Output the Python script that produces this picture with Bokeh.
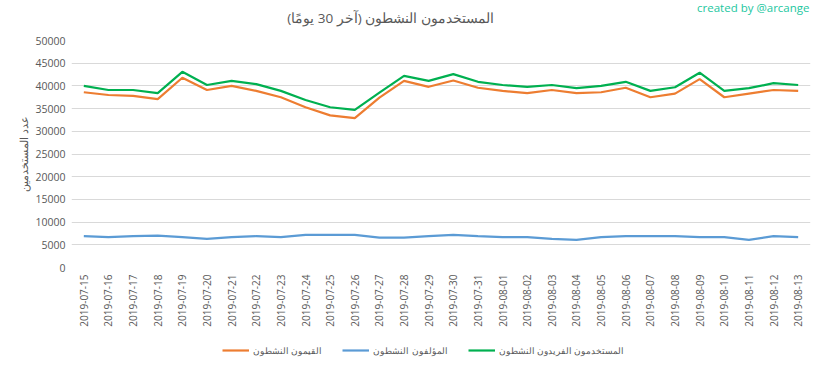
import math
from bokeh.plotting import figure
from bokeh.layouts import column
from bokeh.models import (FactorRange, Range1d, Label, Legend, LegendItem,
                          ColumnDataSource, FixedTicker, NumeralTickFormatter)
from bokeh.embed import file_html
from bokeh.resources import INLINE

dates = ["2019-07-15", "2019-07-16", "2019-07-17", "2019-07-18", "2019-07-19",
         "2019-07-20", "2019-07-21", "2019-07-22", "2019-07-23", "2019-07-24",
         "2019-07-25", "2019-07-26", "2019-07-27", "2019-07-28", "2019-07-29",
         "2019-07-30", "2019-07-31", "2019-08-01", "2019-08-02", "2019-08-03",
         "2019-08-04", "2019-08-05", "2019-08-06", "2019-08-07", "2019-08-08",
         "2019-08-09", "2019-08-10", "2019-08-11", "2019-08-12", "2019-08-13"]

active_curators = [38600, 38000, 37800, 37100, 41800, 39100, 40000, 38900, 37500, 35300,
                   33500, 32900, 37400, 41100, 39800, 41200, 39600, 38900, 38400, 39100,
                   38400, 38600, 39600, 37500, 38300, 41500, 37500, 38300, 39100, 38900]
active_authors = [6900, 6700, 6900, 7000, 6700, 6300, 6700, 6900, 6700, 7200,
                  7200, 7200, 6600, 6600, 6900, 7200, 6900, 6700, 6700, 6300,
                  6100, 6700, 6900, 6900, 6900, 6700, 6700, 6100, 6900, 6700]
active_unique = [40000, 39100, 39100, 38400, 43100, 40200, 41100, 40400, 38900, 36900,
                 35300, 34700, 38500, 42200, 41100, 42600, 40900, 40200, 39800, 40200,
                 39500, 40000, 40900, 38900, 39700, 42900, 38900, 39500, 40600, 40200]

y_ticks = [0, 5000, 10000, 15000, 20000, 25000, 30000, 35000, 40000, 45000, 50000]

series_names = ["القيمون النشطون", "المؤلفون النشطون", "المستخدمون الفريدون النشطون"]
series_colors = ["#ED7D31", "#5B9BD5", "#00B050"]

title_text = "المستخدمون النشطون (آخر 30 يومًا)"
y_label = "عدد المستخدمين"
credit = "created by @arcange"

FONT = "Open Sans"
GRAY = "#595959"
W = 817


def blank(height):
    f = figure(width=W, height=height, output_backend="svg", toolbar_location=None,
               x_axis_type=None, y_axis_type=None, x_range=Range1d(0, 1),
               y_range=Range1d(0, 1), min_border=0)
    f.outline_line_color = None
    f.xgrid.grid_line_color = None
    f.ygrid.grid_line_color = None
    f.border_fill_color = "white"
    f.background_fill_color = "white"
    return f


# header with title and credit (frame aligned with the chart's frame)
head = blank(32)
head.add_layout(Label(x=319, y=15, x_units="screen", y_units="screen", text=title_text,
                      text_align="center", text_baseline="middle", text_font=FONT,
                      text_font_size="13.5px", text_color=GRAY))
head.add_layout(Label(x=738, y=25, x_units="screen", y_units="screen", text=credit,
                      text_align="right", text_baseline="middle", text_font=FONT,
                      text_font_size="11.5px", text_color="#22C7A0"))

# main chart
src = ColumnDataSource(dict(date=dates, cur=active_curators,
                            auth=active_authors, uniq=active_unique))

p = figure(width=W, height=303, output_backend="svg", toolbar_location=None,
           x_range=FactorRange(factors=dates, range_padding=0),
           y_range=Range1d(0, 50000),
           min_border_left=71, min_border_right=7, min_border_top=8,
           min_border_bottom=68)
p.outline_line_color = None
p.background_fill_color = "white"
p.border_fill_color = "white"

p.line("date", "cur", source=src, line_color=series_colors[0], line_width=2.2)
p.line("date", "auth", source=src, line_color=series_colors[1], line_width=2.2)
p.line("date", "uniq", source=src, line_color=series_colors[2], line_width=2.2)

p.yaxis.ticker = FixedTicker(ticks=y_ticks)
p.yaxis.formatter = NumeralTickFormatter(format="0")
for ax in (p.xaxis[0], p.yaxis[0]):
    ax.axis_line_color = None
    ax.major_tick_line_color = None
    ax.minor_tick_line_color = None
    ax.major_tick_out = 0
    ax.major_tick_in = 0
    ax.major_label_text_color = GRAY
    ax.major_label_text_font = FONT
p.yaxis.major_label_text_font_size = "10.5px"
p.yaxis.major_label_standoff = 6
p.yaxis.axis_label = y_label
p.yaxis.axis_label_text_font = FONT
p.yaxis.axis_label_text_font_size = "11px"
p.yaxis.axis_label_text_font_style = "normal"
p.yaxis.axis_label_text_color = GRAY
p.yaxis.axis_label_standoff = 1

p.xaxis.major_label_orientation = math.pi / 2
p.xaxis.major_label_text_font_size = "10px"
p.xaxis.major_label_standoff = 7

p.xgrid.grid_line_color = None
p.ygrid.grid_line_color = "#D9D9D9"
p.ygrid.grid_line_width = 1

# footer with legend; the legend proxies hold only NaN, so they draw nothing
foot = blank(28)
nan = float("nan")
leg_r = [foot.line(x=[nan], y=[nan], line_color=c, line_width=2.2) for c in series_colors]
legend = Legend(items=[LegendItem(label=n, renderers=[r]) for n, r in zip(series_names, leg_r)],
                orientation="horizontal", location=(151, 3),
                glyph_width=27, glyph_height=20, label_standoff=4, spacing=20,
                padding=0, margin=0, border_line_color=None,
                background_fill_alpha=0, label_text_font=FONT,
                label_text_font_size="9px", label_text_color=GRAY)
foot.add_layout(legend, "center")

layout = column(head, p, foot, spacing=0)
open("out.html", "w").write(file_html(layout, INLINE))
